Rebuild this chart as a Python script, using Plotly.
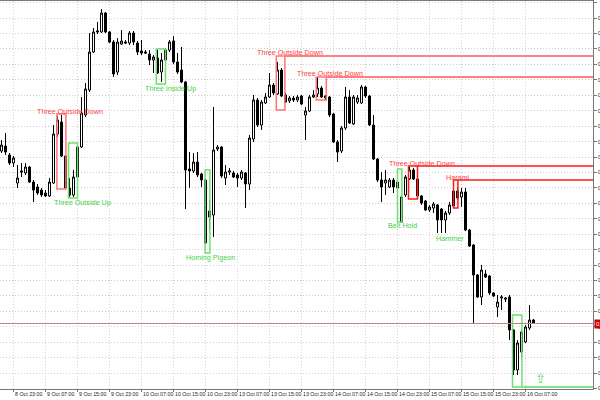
import plotly.graph_objects as go

# ---- candle data (hourly bars) ----
bar_index = list(range(134))
opens = [0.8849,0.8854,0.8845,0.8837,0.8817,0.8829,0.8827,0.8833,0.8818,0.8813,
         0.8810,0.8807,0.8804,0.8817,0.8866,0.8878,0.8844,0.8812,0.8805,0.8823,
         0.8853,0.8885,0.8910,0.8948,0.8968,0.8968,0.8987,0.8968,0.8958,0.8928,
         0.8956,0.8958,0.8957,0.8967,0.8957,0.8949,0.8948,0.8946,0.8940,0.8942,
         0.8928,0.8940,0.8950,0.8959,0.8938,0.8930,0.8918,0.8831,0.8829,0.8838,
         0.8826,0.8820,0.8789,0.8785,0.8851,0.8853,0.8822,0.8828,0.8827,0.8825,
         0.8822,0.8827,0.8816,0.8861,0.8900,0.8875,0.8897,0.8903,0.8915,0.8906,
         0.8930,0.8905,0.8899,0.8902,0.8900,0.8904,0.8885,0.8889,0.8903,0.8906,
         0.8912,0.8904,0.8903,0.8886,0.8858,0.8849,0.8872,0.8903,0.8876,0.8898,
         0.8897,0.8913,0.8904,0.8875,0.8841,0.8820,0.8817,0.8813,0.8820,0.8818,
         0.8778,0.8805,0.8821,0.8830,0.8821,0.8804,0.8799,0.8790,0.8792,0.8795,
         0.8791,0.8780,0.8787,0.8794,0.8809,0.8803,0.8808,0.8770,0.8755,0.8725,
         0.8703,0.8726,0.8724,0.8707,0.8693,0.8702,0.8702,0.8703,0.8670,0.8630,
         0.8648,0.8658,0.8672,0.8680]
highs = [0.8860,0.8867,0.8847,0.8844,0.8835,0.8837,0.8837,0.8834,0.8820,0.8816,
         0.8812,0.8810,0.8822,0.8875,0.8884,0.8885,0.8845,0.8822,0.8830,0.8857,
         0.8903,0.8917,0.8967,0.8972,0.8978,0.8991,0.8988,0.8969,0.8960,0.8962,
         0.8970,0.8960,0.8969,0.8969,0.8959,0.8960,0.8950,0.8950,0.8945,0.8950,
         0.8947,0.8952,0.8960,0.8964,0.8947,0.8953,0.8919,0.8848,0.8847,0.8848,
         0.8827,0.8821,0.8800,0.8893,0.8855,0.8854,0.8835,0.8832,0.8829,0.8827,
         0.8830,0.8828,0.8865,0.8905,0.8902,0.8900,0.8907,0.8927,0.8917,0.8938,
         0.8932,0.8907,0.8904,0.8904,0.8905,0.8905,0.8893,0.8905,0.8910,0.8923,
         0.8914,0.8905,0.8904,0.8887,0.8860,0.8874,0.8913,0.8910,0.8905,0.8905,
         0.8915,0.8914,0.8905,0.8885,0.8842,0.8828,0.8830,0.8822,0.8822,0.8822,
         0.8805,0.8825,0.8833,0.8832,0.8822,0.8805,0.8800,0.8795,0.8798,0.8796,
         0.8792,0.8789,0.8798,0.8820,0.8812,0.8812,0.8812,0.8771,0.8756,0.8726,
         0.8735,0.8730,0.8725,0.8708,0.8705,0.8705,0.8703,0.8705,0.8671,0.8660,
         0.8670,0.8675,0.8695,0.8681]
lows = [0.8847,0.8845,0.8835,0.8833,0.8812,0.8823,0.8825,0.8817,0.8798,0.8805,
        0.8803,0.8803,0.8803,0.8816,0.8863,0.8843,0.8811,0.8803,0.8803,0.8822,
        0.8852,0.8883,0.8908,0.8947,0.8966,0.8967,0.8967,0.8957,0.8923,0.8925,
        0.8955,0.8956,0.8955,0.8955,0.8945,0.8945,0.8946,0.8935,0.8927,0.8926,
        0.8918,0.8938,0.8948,0.8936,0.8926,0.8917,0.8791,0.8812,0.8827,0.8823,
        0.8813,0.8756,0.8770,0.8763,0.8849,0.8822,0.8815,0.8825,0.8822,0.8813,
        0.8820,0.8792,0.8810,0.8858,0.8873,0.8870,0.8896,0.8902,0.8905,0.8905,
        0.8903,0.8897,0.8897,0.8898,0.8898,0.8895,0.8860,0.8888,0.8902,0.8903,
        0.8902,0.8900,0.8883,0.8857,0.8838,0.8847,0.8870,0.8876,0.8875,0.8896,
        0.8896,0.8902,0.8874,0.8840,0.8818,0.8798,0.8805,0.8812,0.8807,0.8810,
        0.8777,0.8803,0.8820,0.8820,0.8802,0.8795,0.8789,0.8788,0.8787,0.8767,
        0.8767,0.8767,0.8785,0.8793,0.8800,0.8793,0.8769,0.8753,0.8677,0.8702,
        0.8695,0.8722,0.8705,0.8703,0.8683,0.8690,0.8698,0.8660,0.8625,0.8625,
        0.8642,0.8657,0.8670,0.8676]
closes = [0.8855,0.8848,0.8837,0.8842,0.8822,0.8828,0.8833,0.8818,0.8810,0.8807,
          0.8805,0.8804,0.8818,0.8866,0.8880,0.8844,0.8812,0.8805,0.8823,0.8853,
          0.8887,0.8911,0.8948,0.8968,0.8969,0.8987,0.8968,0.8958,0.8926,0.8958,
          0.8959,0.8957,0.8967,0.8958,0.8948,0.8947,0.8947,0.8940,0.8943,0.8927,
          0.8940,0.8950,0.8958,0.8938,0.8928,0.8918,0.8830,0.8829,0.8838,0.8825,
          0.8820,0.8757,0.8783,0.8850,0.8853,0.8824,0.8828,0.8829,0.8823,0.8822,
          0.8828,0.8816,0.8862,0.8900,0.8875,0.8898,0.8903,0.8915,0.8907,0.8930,
          0.8904,0.8898,0.8902,0.8900,0.8903,0.8896,0.8889,0.8903,0.8905,0.8912,
          0.8903,0.8902,0.8885,0.8858,0.8848,0.8872,0.8903,0.8877,0.8903,0.8902,
          0.8913,0.8904,0.8875,0.8841,0.8820,0.8813,0.8820,0.8820,0.8813,0.8812,
          0.8803,0.8823,0.8830,0.8821,0.8804,0.8797,0.8790,0.8793,0.8796,0.8780,
          0.8780,0.8787,0.8795,0.8809,0.8802,0.8808,0.8770,0.8754,0.8725,0.8703,
          0.8730,0.8723,0.8707,0.8704,0.8698,0.8703,0.8701,0.8670,0.8630,0.8657,
          0.8668,0.8673,0.8680,0.8677]
current_price = 0.86765

# ---- time axis labels ----
time_label_idx = [3, 11, 19, 27, 35, 43, 51, 59, 67, 75, 83, 91, 99, 107, 115, 123, 131]
time_labels = ["8 Oct 23:00", "9 Oct 07:00", "9 Oct 15:00", "9 Oct 23:00",
               "10 Oct 07:00", "10 Oct 15:00", "10 Oct 23:00", "13 Oct 07:00",
               "13 Oct 15:00", "13 Oct 23:00", "14 Oct 07:00", "14 Oct 15:00",
               "14 Oct 23:00", "15 Oct 07:00", "15 Oct 15:00", "15 Oct 23:00",
               "16 Oct 07:00"]

# ---- detected patterns: name, bullish?, first/last bar edge, top, bottom, label pos ----
pattern_names = ["Three Outside Down", "Three Outside Up", "Three Inside Up", "Homing Pigeon",
                 "Three Outside Down", "Three Outside Down", "Belt Hold", "Three Outside Down",
                 "Harami", "Three Inside Up"]
pattern_bull = [False, True, True, True, False, False, True, False, False, True]
pattern_x0 = [13.85, 16.75, 38.7, 50.9, 68.7, 78.7, 99.0, 101.75, 113.0, 127.75]
pattern_x1 = [16.1, 19.0, 41.0, 52.1, 70.85, 81.2, 100.1, 104.0, 114.1, 130.1]
pattern_top = [0.8886, 0.8857, 0.8951, 0.8830, 0.8944, 0.8923, 0.8831, 0.8834, 0.8820, 0.8685]
pattern_bottom = [0.8811, 0.8802, 0.8916, 0.8747, 0.8890, 0.8900, 0.8778, 0.8801, 0.8792, 0.8613]
label_x = [17.2, 20.2, 42.2, 52.2, 72.2, 82.2, 100.2, 105.2, 114.2, None]
label_y = [0.8889, 0.8798, 0.89115, 0.8743, 0.8948, 0.8927, 0.8775, 0.8837, 0.8823, None]
# level lines extending right from some patterns (pattern index, price)
level_from = [4, 5, 7, 8, 9]
level_price = [0.8944, 0.8923, 0.8834, 0.8820, 0.8613]
hammer_x, hammer_y = 112.2, 0.8762
arrow_x, arrow_y = 134.7, 0.8622

X_MIN, X_MAX = -0.375, 147.875
Y_MIN, Y_MAX = 0.8611, 0.8999

fig = go.Figure(go.Candlestick(
    x=bar_index, open=opens, high=highs, low=lows, close=closes,
    increasing=dict(line=dict(color="black", width=1), fillcolor="white"),
    decreasing=dict(line=dict(color="black", width=1), fillcolor="black"),
    whiskerwidth=0, showlegend=False))

RED_SOFT = "#ff7373"
RED = "#ff1a1a"
GREEN = "#6ee06e"
RED_TXT = "#ff3b3b"
GREEN_TXT = "#3fcf3f"
FONT = "Liberation Sans, Arial, sans-serif"

shapes = []
annotations = []
for k, name in enumerate(pattern_names):
    if pattern_bull[k]:
        col = GREEN
    else:
        col = RED_SOFT if k < 6 else RED
    shapes.append(dict(type="rect", xref="x", yref="y",
                       x0=pattern_x0[k], x1=pattern_x1[k],
                       y0=pattern_bottom[k], y1=pattern_top[k],
                       line=dict(color=col, width=1.5)))
    if label_x[k] is not None:
        annotations.append(dict(x=label_x[k], y=label_y[k], xref="x", yref="y",
                                text=name, showarrow=False,
                                font=dict(family=FONT, size=7.2,
                                          color=GREEN_TXT if pattern_bull[k] else RED_TXT)))

for k, p in zip(level_from, level_price):
    if pattern_bull[k]:
        col, w = "#86e486", 2.2
    elif k < 6:
        col, w = "#ff8080", 2.2
    else:
        col, w = RED, 1.5
    shapes.append(dict(type="line", xref="x", yref="y", x0=pattern_x1[k], x1=X_MAX,
                       y0=p, y1=p, line=dict(color=col, width=w)))

# current price line
shapes.append(dict(type="line", xref="paper", yref="y", x0=0, x1=1,
                   y0=current_price, y1=current_price,
                   line=dict(color="#c98080", width=1)))

annotations.append(dict(x=hammer_x, y=hammer_y, xref="x", yref="y", text="Hammer",
                        showarrow=False, font=dict(family=FONT, size=7.2, color=GREEN_TXT)))
annotations.append(dict(x=arrow_x, y=arrow_y, xref="x", yref="y", text="⇧",
                        showarrow=False, font=dict(family="DejaVu Sans", size=13, color="#5fd35f")))
annotations.append(dict(x=1, y=current_price, xref="paper", yref="y", xanchor="left",
                        text="0.8677", showarrow=False, bgcolor="#d40000", borderpad=1,
                        xshift=1, font=dict(family=FONT, size=6, color="white")))

for xi, lab in zip(time_label_idx, time_labels):
    annotations.append(dict(x=xi, y=0, xref="x", yref="paper", xanchor="left",
                            yanchor="middle", yshift=-5, xshift=-1, text=lab,
                            showarrow=False, font=dict(family=FONT, size=5.3, color="#222")))

fig.update_layout(
    width=600, height=400,
    margin=dict(l=0, r=7, t=1, b=11, autoexpand=False),
    paper_bgcolor="white", plot_bgcolor="white",
    showlegend=False, boxgap=0.5, boxgroupgap=0,
    shapes=shapes, annotations=annotations,
    xaxis=dict(range=[X_MIN, X_MAX], rangeslider=dict(visible=False),
               tickmode="array", tickvals=time_label_idx, showticklabels=False,
               ticks="outside", ticklen=2, tickcolor="#777",
               showgrid=True, gridcolor="#cfcfcf", griddash="1px,2px", gridwidth=1,
               showline=True, linecolor="#777", linewidth=1, mirror=True,
               zeroline=False, automargin=False, fixedrange=True),
    yaxis=dict(range=[Y_MIN, Y_MAX], side="right",
               tickmode="linear", tick0=0.89973, dtick=0.001543, tickformat=".4f",
               ticks="outside", ticklen=3, tickcolor="#777",
               tickfont=dict(family=FONT, size=5.5, color="#222"),
               showgrid=True, gridcolor="#cfcfcf", griddash="1px,2px", gridwidth=1,
               showline=True, linecolor="#777", linewidth=1,
               zeroline=False, automargin=False, fixedrange=True),
)

fig.write_html("out.html", config={"displayModeBar": False},
               post_script="document.body.style.margin='0';document.body.style.overflow='hidden';")
